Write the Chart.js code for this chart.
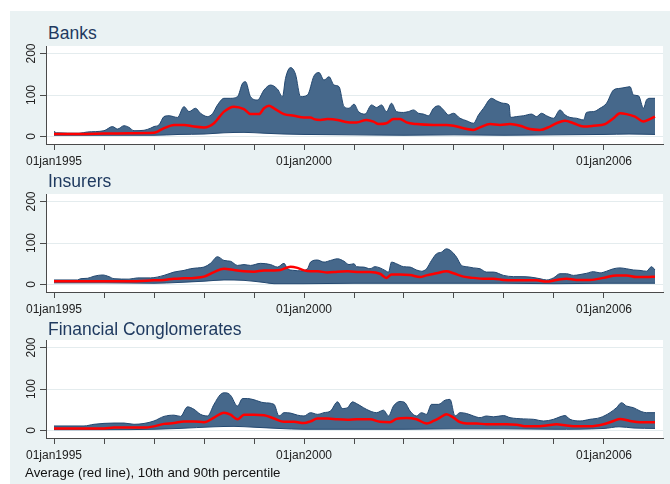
<!DOCTYPE html>
<html>
<head>
<meta charset="utf-8">
<title>Average, 10th and 90th percentile</title>
<script src="https://cdn.jsdelivr.net/npm/chart.js@4"></script>
<style>
  body { margin: 0; background: #fff; font-family: "Liberation Sans", Arial, sans-serif; }
  #page { position: relative; width: 670px; height: 484px; overflow: hidden; }
  #bg { position: absolute; left: 10px; top: 11px; width: 660px; height: 473px; background: #eaf2f3; }
  .panel-title { position: absolute; left: 48px; font-size: 17.5px; line-height: 1; color: #1f3a60; white-space: nowrap; }
  .panel { position: absolute; left: 0; }
  #note { position: absolute; left: 25px; top: 466px; font-size: 13.3px; line-height: 1; color: #111; white-space: nowrap; }
</style>
</head>
<body>
<div id="page">
  <div id="bg"></div>
  <div class="panel-title" style="top:24.5px">Banks</div>
  <canvas class="panel" id="banks" width="670" height="134" style="top:40px"></canvas>
  <div class="panel-title" style="top:172.5px">Insurers</div>
  <canvas class="panel" id="insurers" width="670" height="134" style="top:188px"></canvas>
  <div class="panel-title" style="top:321px">Financial Conglomerates</div>
  <canvas class="panel" id="conglomerates" width="670" height="134" style="top:334px"></canvas>
  <div id="note">Average (red line), 10th and 90th percentile</div>
</div>
<script>
// [year, value] pairs; 90th percentile, average, 10th percentile
const banksUpper = [
  [1995.00, 13], [1995.05, 9], [1995.50, 8], [1995.67, 11], [1996.00, 14], [1996.17, 24],
  [1996.27, 18], [1996.40, 26], [1996.50, 22], [1996.60, 14], [1996.80, 15], [1996.93, 20],
  [1997.00, 24], [1997.10, 28], [1997.20, 48], [1997.30, 50], [1997.47, 46], [1997.60, 72],
  [1997.70, 60], [1997.83, 68], [1997.93, 56], [1998.07, 48], [1998.17, 55], [1998.27, 76],
  [1998.40, 92], [1998.53, 92], [1998.67, 96], [1998.77, 128], [1998.83, 132], [1998.93, 96],
  [1999.07, 88], [1999.20, 112], [1999.33, 124], [1999.47, 114], [1999.57, 96], [1999.63, 140],
  [1999.73, 166], [1999.83, 150], [1999.93, 96], [2000.07, 100], [2000.20, 146], [2000.30, 154],
  [2000.40, 136], [2000.50, 144], [2000.60, 124], [2000.70, 120], [2000.80, 72], [2000.90, 68],
  [2001.00, 78], [2001.09, 60], [2001.22, 54], [2001.35, 76], [2001.45, 70], [2001.55, 76],
  [2001.65, 60], [2001.75, 80], [2001.85, 60], [2001.99, 58], [2002.09, 60], [2002.19, 64],
  [2002.29, 56], [2002.39, 54], [2002.49, 50], [2002.59, 68], [2002.69, 74], [2002.79, 64],
  [2002.89, 52], [2002.99, 56], [2003.12, 44], [2003.25, 38], [2003.39, 32], [2003.49, 52],
  [2003.59, 68], [2003.75, 92], [2003.85, 86], [2003.99, 80], [2004.10, 76], [2004.13, 46],
  [2004.25, 48], [2004.39, 50], [2004.55, 54], [2004.65, 48], [2004.75, 56], [2004.85, 50],
  [2004.99, 44], [2005.12, 64], [2005.22, 52], [2005.32, 46], [2005.45, 44], [2005.59, 40],
  [2005.65, 58], [2005.79, 60], [2005.92, 68], [2006.05, 80], [2006.19, 112], [2006.32, 116],
  [2006.42, 118], [2006.52, 120], [2006.59, 100], [2006.69, 98], [2006.79, 68], [2006.85, 88],
  [2006.92, 92], [2007.02, 92]
];
const banksMean = [
  [1995.00, 6], [1995.50, 6], [1996.00, 7], [1996.50, 8], [1997.00, 9], [1997.07, 12],
  [1997.20, 20], [1997.40, 28], [1997.60, 28], [1997.80, 24], [1998.00, 22], [1998.20, 32],
  [1998.40, 60], [1998.60, 72], [1998.80, 66], [1998.93, 54], [1999.10, 54], [1999.20, 68],
  [1999.30, 74], [1999.40, 68], [1999.60, 54], [1999.80, 50], [2000.00, 46], [2000.13, 46],
  [2000.20, 42], [2000.33, 40], [2000.47, 42], [2000.67, 40], [2000.80, 36], [2000.92, 34],
  [2001.05, 34], [2001.25, 40], [2001.39, 36], [2001.49, 30], [2001.65, 32], [2001.79, 42],
  [2001.92, 42], [2002.05, 34], [2002.25, 30], [2002.59, 28], [2002.85, 28], [2002.99, 26],
  [2003.19, 20], [2003.39, 16], [2003.52, 22], [2003.72, 30], [2003.92, 28], [2004.12, 30],
  [2004.32, 26], [2004.52, 18], [2004.72, 16], [2004.92, 24], [2005.05, 32], [2005.22, 38],
  [2005.39, 32], [2005.59, 24], [2005.79, 26], [2006.02, 30], [2006.19, 44], [2006.32, 56],
  [2006.45, 54], [2006.62, 48], [2006.79, 36], [2006.92, 42], [2007.02, 48]
];
const banksLower = [
  [1995.00, 3], [1996.00, 3], [1997.00, 3], [1997.50, 5], [1998.00, 6], [1998.40, 9],
  [1998.80, 10], [1999.20, 8], [1999.60, 6], [2000.00, 5], [2001.00, 4], [2002.00, 3],
  [2003.00, 4], [2004.00, 3], [2005.00, 4], [2006.00, 5], [2006.50, 6], [2007.02, 5]
];

const insurersUpper = [
  [1995.00, 11], [1995.47, 11], [1995.53, 14], [1995.67, 15], [1995.80, 20], [1995.97, 23],
  [1996.10, 19], [1996.20, 14], [1996.50, 13], [1996.67, 16], [1996.93, 16], [1997.20, 22],
  [1997.40, 30], [1997.60, 34], [1997.73, 38], [1997.87, 40], [1998.00, 42], [1998.13, 51],
  [1998.27, 67], [1998.40, 58], [1998.53, 56], [1998.67, 46], [1998.80, 48], [1998.93, 46],
  [1999.13, 51], [1999.33, 48], [1999.47, 42], [1999.60, 51], [1999.67, 38], [1999.80, 34],
  [1999.93, 33], [2000.07, 38], [2000.13, 54], [2000.27, 59], [2000.40, 54], [2000.53, 58],
  [2000.67, 62], [2000.80, 56], [2000.90, 48], [2001.00, 50], [2001.05, 43], [2001.19, 42],
  [2001.32, 38], [2001.42, 43], [2001.52, 40], [2001.62, 34], [2001.69, 30], [2001.75, 54],
  [2001.85, 50], [2001.99, 43], [2002.12, 42], [2002.25, 35], [2002.35, 32], [2002.45, 38],
  [2002.55, 58], [2002.65, 74], [2002.75, 78], [2002.85, 86], [2002.95, 80], [2003.05, 66],
  [2003.15, 46], [2003.25, 43], [2003.39, 40], [2003.52, 38], [2003.65, 30], [2003.79, 30],
  [2003.99, 22], [2004.19, 19], [2004.32, 19], [2004.52, 18], [2004.72, 14], [2004.85, 11],
  [2004.99, 16], [2005.12, 26], [2005.25, 26], [2005.39, 22], [2005.52, 24], [2005.65, 27],
  [2005.79, 31], [2005.92, 28], [2006.05, 32], [2006.19, 38], [2006.32, 40], [2006.45, 38],
  [2006.59, 35], [2006.72, 34], [2006.85, 32], [2006.95, 43], [2007.02, 35]
];
const insurersMean = [
  [1995.00, 8], [1996.00, 8], [1996.50, 8], [1997.00, 10], [1997.20, 11], [1997.40, 14],
  [1997.60, 15], [1997.80, 16], [1998.00, 19], [1998.20, 30], [1998.40, 38], [1998.60, 35],
  [1998.80, 32], [1999.00, 31], [1999.20, 34], [1999.40, 34], [1999.53, 35], [1999.73, 43],
  [1999.87, 40], [2000.00, 34], [2000.13, 32], [2000.27, 32], [2000.47, 29], [2000.67, 31],
  [2000.87, 32], [2001.12, 30], [2001.32, 30], [2001.52, 26], [2001.65, 16], [2001.75, 24],
  [2001.92, 24], [2002.12, 23], [2002.32, 18], [2002.45, 22], [2002.65, 27], [2002.85, 32],
  [2002.99, 27], [2003.19, 19], [2003.39, 16], [2003.59, 14], [2003.79, 14], [2003.99, 11],
  [2004.19, 10], [2004.39, 10], [2004.65, 10], [2004.85, 7], [2005.05, 11], [2005.25, 14],
  [2005.45, 11], [2005.72, 11], [2005.99, 16], [2006.25, 22], [2006.45, 22], [2006.65, 18],
  [2006.85, 18], [2007.02, 19]
];
const insurersLower = [
  [1995.00, 4], [1996.00, 4], [1997.00, 3], [1997.50, 5], [1998.00, 8], [1998.40, 11],
  [1998.80, 10], [1999.20, 5], [1999.40, 2], [2000.00, 2], [2001.00, 3], [2002.00, 3],
  [2003.00, 3], [2004.00, 3], [2005.00, 2], [2006.00, 3], [2007.02, 3]
];

const conglomeratesUpper = [
  [1995.00, 11], [1995.60, 11], [1995.80, 15], [1996.20, 18], [1996.40, 18], [1996.60, 15],
  [1996.80, 17], [1997.00, 23], [1997.20, 34], [1997.40, 37], [1997.53, 34], [1997.67, 57],
  [1997.80, 51], [1997.93, 39], [1998.07, 35], [1998.20, 63], [1998.33, 87], [1998.43, 91],
  [1998.53, 85], [1998.67, 59], [1998.77, 77], [1998.87, 77], [1999.00, 74], [1999.20, 67],
  [1999.40, 63], [1999.50, 35], [1999.60, 43], [1999.73, 42], [1999.87, 37], [2000.00, 35],
  [2000.13, 43], [2000.27, 39], [2000.40, 43], [2000.53, 47], [2000.67, 69], [2000.77, 53],
  [2000.87, 55], [2000.97, 69], [2001.05, 65], [2001.19, 55], [2001.32, 47], [2001.45, 43],
  [2001.59, 49], [2001.69, 35], [2001.79, 59], [2001.92, 70], [2002.02, 67], [2002.12, 47],
  [2002.25, 35], [2002.35, 43], [2002.45, 39], [2002.55, 63], [2002.69, 63], [2002.82, 73],
  [2002.92, 75], [2003.02, 35], [2003.12, 43], [2003.25, 41], [2003.39, 35], [2003.52, 31],
  [2003.65, 35], [2003.79, 33], [2003.99, 36], [2004.12, 31], [2004.39, 28], [2004.59, 27],
  [2004.79, 23], [2004.99, 27], [2005.12, 33], [2005.22, 36], [2005.32, 27], [2005.52, 23],
  [2005.72, 27], [2005.92, 31], [2006.12, 43], [2006.25, 55], [2006.35, 67], [2006.45, 59],
  [2006.59, 55], [2006.72, 47], [2006.85, 43], [2007.02, 43]
];
const conglomeratesMean = [
  [1995.00, 5], [1996.00, 5], [1996.20, 7], [1996.80, 7], [1997.00, 10], [1997.20, 16],
  [1997.40, 18], [1997.60, 22], [1997.80, 22], [1998.00, 20], [1998.20, 31], [1998.40, 43],
  [1998.53, 38], [1998.67, 27], [1998.80, 38], [1999.00, 38], [1999.20, 37], [1999.40, 29],
  [1999.60, 21], [1999.80, 21], [2000.00, 18], [2000.13, 22], [2000.27, 29], [2000.47, 29],
  [2000.67, 27], [2000.87, 26], [2001.05, 27], [2001.32, 27], [2001.52, 21], [2001.72, 20],
  [2001.85, 28], [2002.05, 30], [2002.25, 27], [2002.45, 17], [2002.59, 23], [2002.72, 31],
  [2002.85, 39], [2002.99, 31], [2003.12, 20], [2003.25, 17], [2003.45, 17], [2003.65, 15],
  [2003.85, 15], [2004.05, 15], [2004.25, 14], [2004.45, 10], [2004.65, 10], [2004.85, 12],
  [2005.05, 15], [2005.25, 12], [2005.45, 10], [2005.72, 10], [2005.99, 15], [2006.19, 23],
  [2006.32, 28], [2006.52, 23], [2006.72, 20], [2007.02, 20]
];
const conglomeratesLower = [
  [1995.00, 2], [1996.00, 2], [1997.00, 3], [1997.50, 5], [1998.20, 9], [1998.60, 10],
  [1999.00, 8], [1999.50, 5], [2000.00, 3], [2001.00, 3], [2002.00, 3], [2003.00, 4],
  [2004.00, 4], [2005.00, 3], [2006.00, 5], [2006.30, 9], [2006.60, 6], [2007.02, 5]
];

// axis ticks: one mark per year, only some of them labelled
const yearTicks = [1995, 1996, 1997, 1998, 1999, 2000, 2001, 2002, 2003, 2004, 2005, 2006];
const yearLabels = { 1995: '01jan1995', 2000: '01jan2000', 2006: '01jan2006' };
const valueTicks = [0, 100, 200];

const bandFill = '#46688b';
const bandEdge = '#234870';
const axisColor = '#4a4a4a';
const gridColor = '#e4ecee';

Chart.defaults.font.family = "'Liberation Sans', Arial, sans-serif";

// white plot region on top of the tinted page
const plotBackground = {
  id: 'plotBackground',
  beforeDraw(chart) {
    const { ctx, chartArea: a } = chart;
    ctx.save();
    ctx.fillStyle = '#ffffff';
    ctx.fillRect(a.left, a.top, a.right - a.left, a.bottom - a.top);
    ctx.restore();
  }
};

function toPoints(pairs) {
  return pairs.map(([x, y]) => ({ x, y }));
}

function makePanel(id, upper, mean, lower) {
  return new Chart(document.getElementById(id), {
    type: 'line',
    data: {
      // average first so it is painted over the percentile band
      datasets: [
        { data: toPoints(mean), borderColor: '#ff0000', borderWidth: 2.5, fill: false },
        { data: toPoints(lower), borderColor: bandEdge, borderWidth: 1, fill: false },
        { data: toPoints(upper), borderColor: bandEdge, borderWidth: 1,
          backgroundColor: bandFill, fill: '-1' }
      ]
    },
    options: {
      responsive: false,
      animation: false,
      elements: {
        point: { radius: 0 },
        line: { cubicInterpolationMode: 'monotone' }
      },
      layout: { padding: { top: 6, right: 7, left: 0, bottom: 0 } },
      plugins: { legend: { display: false }, tooltip: { enabled: false } },
      scales: {
        x: {
          type: 'linear',
          min: 1994.84,
          max: 2007.18,
          afterBuildTicks: s => { s.ticks = yearTicks.map(v => ({ value: v })); },
          afterFit: s => { s.height = 30; },
          ticks: {
            autoSkip: false, minRotation: 0, maxRotation: 0, padding: 4,
            color: '#222', font: { size: 12 },
            callback: v => yearLabels[v] || ''
          },
          grid: { drawOnChartArea: false, tickLength: 6, tickColor: axisColor },
          border: { color: axisColor, width: 1 }
        },
        y: {
          min: -18,
          max: 218,
          afterBuildTicks: s => { s.ticks = valueTicks.map(v => ({ value: v })); },
          afterFit: s => { s.width = 46; },
          ticks: {
            minRotation: 90, maxRotation: 90, crossAlign: 'center', padding: -2,
            color: '#222', font: { size: 12 }
          },
          grid: { color: gridColor, tickColor: axisColor, tickLength: 6 },
          border: { color: axisColor, width: 1 }
        }
      }
    },
    plugins: [plotBackground]
  });
}

makePanel('banks', banksUpper, banksMean, banksLower);
makePanel('insurers', insurersUpper, insurersMean, insurersLower);
makePanel('conglomerates', conglomeratesUpper, conglomeratesMean, conglomeratesLower);
</script>
</body>
</html>
